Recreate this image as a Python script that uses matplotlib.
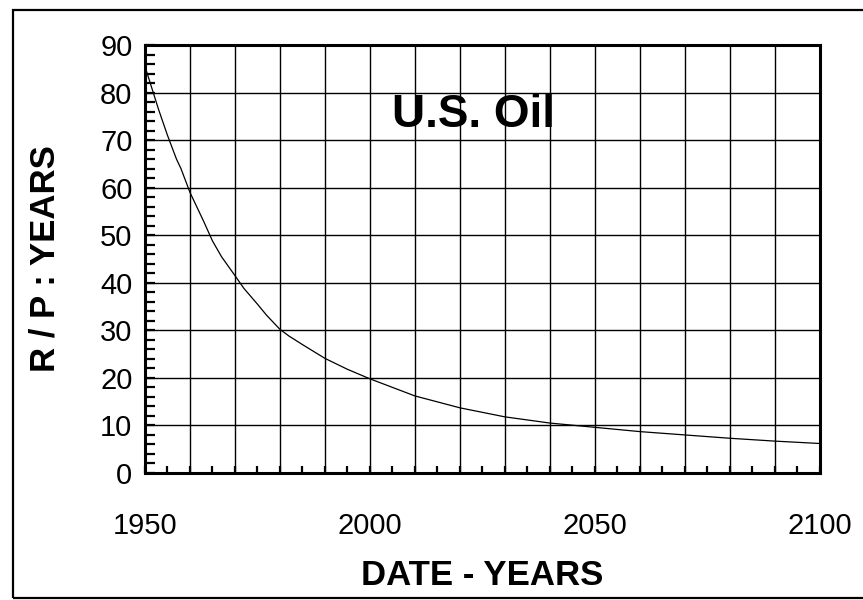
import numpy as np
import matplotlib
matplotlib.use("Agg")
import matplotlib.pyplot as plt
from matplotlib.patches import Rectangle
from matplotlib.ticker import MultipleLocator, FuncFormatter

plt.rcParams['font.family'] = ['Liberation Sans', 'DejaVu Sans']

# R/P ratio
years = [1950, 1951, 1952, 1953, 1955, 1957, 1958, 1960, 1962, 1963, 1965, 1967,
         1970, 1972, 1975, 1977, 1980, 1982, 1985, 1990, 1995, 2000, 2010, 2020,
         2030, 2040, 2050, 2060, 2070, 2080, 2090, 2100]
rp_years = [85.5, 82.5, 79.5, 76.5, 71.0, 66.0, 64.0, 59.0, 55.0, 53.0, 48.8, 45.5,
            41.5, 38.8, 35.5, 33.2, 30.2, 28.8, 27.0, 24.1, 21.8, 19.8, 16.2, 13.7,
            11.8, 10.5, 9.6, 8.7, 8.0, 7.3, 6.7, 6.2]
x_labels = [1950, 2000, 2050, 2100]

fig = plt.figure(figsize=(8.63, 6.0), dpi=100)
ax = fig.add_axes([0.168, 0.2117, 0.782, 0.7133])

ax.plot(years, rp_years, color='black', lw=0.9)

ax.set_xlim(1950, 2100)
ax.set_ylim(0, 90)
ax.xaxis.set_major_locator(MultipleLocator(10))
ax.xaxis.set_minor_locator(MultipleLocator(5))
ax.yaxis.set_major_locator(MultipleLocator(10))
ax.yaxis.set_minor_locator(MultipleLocator(2))
ax.xaxis.set_major_formatter(FuncFormatter(
    lambda v, p: '%d' % v if int(round(v)) in x_labels else ''))
ax.grid(True, which='major', color='black', lw=1.0)

ax.tick_params(axis='both', which='both', direction='in', color='black',
               width=1.6, labelsize=21)
ax.tick_params(axis='y', which='both', length=7, pad=9)
ax.tick_params(axis='x', which='both', length=5, pad=28)
for s in ax.spines.values():
    s.set_linewidth(2.2)

ax.set_xlabel('DATE - YEARS', fontsize=25, fontweight='bold')
ax.xaxis.set_label_coords(0.5, -0.2)
ax.set_ylabel('R / P : YEARS', fontsize=25, fontweight='bold')
ax.yaxis.set_label_coords(-0.123, 0.5)

ax.text(2023, 75.3, 'U.S. Oil', fontsize=33, fontweight='bold',
        ha='center', va='center')

# outer frame of the scanned page
fig.patches.append(Rectangle((13 / 863, 2 / 600), 1.0, 588 / 600,
                             transform=fig.transFigure, fill=False,
                             edgecolor='black', lw=1.6, clip_on=False))

fig.savefig('out.png', dpi=100)
